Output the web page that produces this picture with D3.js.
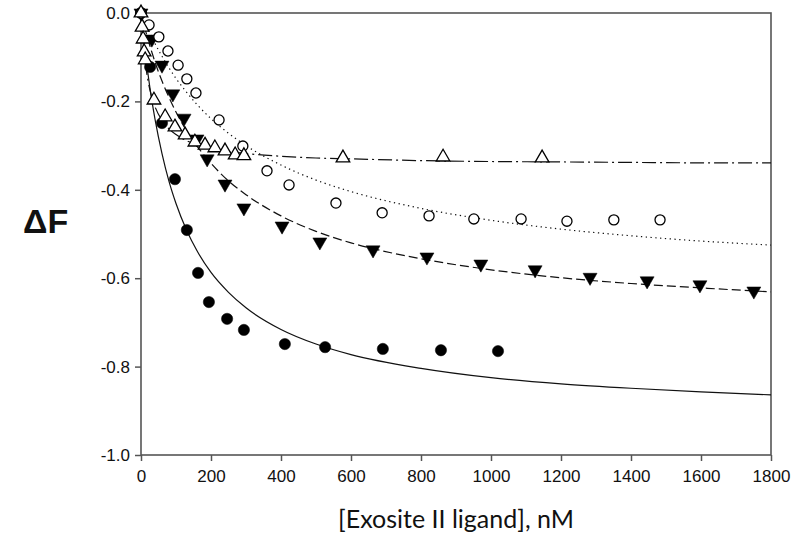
<!DOCTYPE html>
<html>
<head>
<meta charset="utf-8">
<script src="https://cdn.jsdelivr.net/npm/d3@7"></script>
<style>
  body { margin: 0; background: #fff; }
  .tick text { font-family: "Liberation Sans", Arial, sans-serif; font-size: 17px; fill: #111; }
</style>
</head>
<body>
<script>
var filledX = [0, 26, 60, 97, 131, 163, 194, 246, 294, 411, 526, 691, 857, 1020];
var filledY = [0, -0.122, -0.249, -0.376, -0.491, -0.588, -0.654, -0.692, -0.717, -0.749, -0.756, -0.760, -0.763, -0.765];

var downX = [0, 31, 60, 91, 123, 160, 189, 240, 294, 403, 511, 663, 817, 971, 1126, 1283, 1446, 1597, 1751];
var downY = [0, -0.059, -0.118, -0.183, -0.238, -0.285, -0.330, -0.387, -0.441, -0.482, -0.518, -0.536, -0.552, -0.568, -0.581, -0.598, -0.606, -0.615, -0.629];

var openX = [0, 23, 51, 77, 106, 131, 157, 223, 291, 360, 423, 557, 689, 823, 951, 1086, 1217, 1351, 1483];
var openY = [0, -0.027, -0.054, -0.086, -0.118, -0.149, -0.181, -0.242, -0.301, -0.357, -0.389, -0.430, -0.452, -0.459, -0.466, -0.466, -0.471, -0.468, -0.468];

var upX = [0, 3, 6, 9, 12, 37, 69, 97, 126, 154, 183, 211, 240, 269, 294, 577, 863, 1146];
var upY = [0, -0.032, -0.059, -0.088, -0.106, -0.197, -0.235, -0.258, -0.276, -0.292, -0.299, -0.305, -0.312, -0.321, -0.323, -0.328, -0.326, -0.328];

// fitted curves at these x positions
var fitX = [0, 5, 10, 20, 30, 40, 60, 80, 100, 130, 160, 200, 250, 300, 400, 500, 600, 800, 1000, 1200, 1400, 1600, 1800];
var solidFit = [0, -0.039, -0.075, -0.138, -0.193, -0.240, -0.318, -0.381, -0.431, -0.491, -0.538, -0.587, -0.632, -0.667, -0.716, -0.749, -0.773, -0.804, -0.825, -0.839, -0.849, -0.857, -0.864];
var dashFit = [0, -0.016, -0.031, -0.060, -0.086, -0.111, -0.154, -0.191, -0.224, -0.266, -0.301, -0.340, -0.380, -0.411, -0.459, -0.494, -0.520, -0.556, -0.581, -0.599, -0.612, -0.622, -0.631];
var dotFit = [0, -0.010, -0.019, -0.037, -0.053, -0.069, -0.098, -0.124, -0.148, -0.179, -0.207, -0.239, -0.272, -0.300, -0.344, -0.378, -0.404, -0.442, -0.469, -0.489, -0.504, -0.516, -0.525];
var dashDotFit = [0, -0.057, -0.098, -0.153, -0.188, -0.212, -0.243, -0.262, -0.275, -0.289, -0.298, -0.306, -0.313, -0.318, -0.324, -0.328, -0.330, -0.334, -0.336, -0.337, -0.338, -0.339, -0.339];

var xTicks = [0, 200, 400, 600, 800, 1000, 1200, 1400, 1600, 1800];
var yTicks = [0, -0.2, -0.4, -0.6, -0.8, -1.0];

var svgWidth = 800;
var svgHeight = 540;
var margin = { top: 13, right: 29, bottom: 85, left: 141 };
var chartWidth = svgWidth - margin.left - margin.right;
var chartHeight = svgHeight - margin.top - margin.bottom;

var svg = d3.select("body").append("svg")
  .attr("width", svgWidth)
  .attr("height", svgHeight);

var chartGroup = svg.append("g")
  .attr("transform", `translate(${margin.left}, ${margin.top})`);

var xScale = d3.scaleLinear().domain([0, 1800]).range([0, chartWidth]);
var yScale = d3.scaleLinear().domain([-1, 0]).range([chartHeight, 0]);

var axisColor = "#555";

var bottomAxis = d3.axisBottom(xScale).tickValues(xTicks).tickSize(6).tickPadding(9).tickFormat(d3.format("d"));
var leftAxis = d3.axisLeft(yScale).tickValues(yTicks).tickSize(6).tickPadding(5).tickFormat(d3.format(".1f"));

var gx = chartGroup.append("g")
  .attr("transform", `translate(0, ${chartHeight})`)
  .call(bottomAxis);
var gy = chartGroup.append("g").call(leftAxis);
[gx, gy].forEach(function(g) {
  g.select(".domain").remove();
  g.selectAll(".tick line").attr("stroke", axisColor).attr("stroke-width", 1.5);
});
gy.selectAll(".tick text").text(function(d) { return d3.format(".1f")(d).replace("−", "-"); });

// frame
chartGroup.append("rect")
  .attr("width", chartWidth)
  .attr("height", chartHeight)
  .attr("fill", "none")
  .attr("stroke", axisColor)
  .attr("stroke-width", 1.6);

// fit lines
function drawFit(values, dash) {
  var line = d3.line()
    .x(function(d, i) { return xScale(fitX[i]); })
    .y(function(d) { return yScale(d); })
    .curve(d3.curveMonotoneX);
  chartGroup.append("path")
    .datum(values)
    .attr("d", line)
    .attr("fill", "none")
    .attr("stroke", "#111")
    .attr("stroke-width", 1.2)
    .attr("stroke-dasharray", dash);
}
drawFit(solidFit, null);
drawFit(dashFit, "9,4");
drawFit(dotFit, "1.3,3.5");
drawFit(dashDotFit, "14,4,2,4");

// markers
function drawPoints(xs, ys, symbolType, size, filled, rotate) {
  var sym = d3.symbol().type(symbolType).size(size);
  chartGroup.selectAll(null)
    .data(xs)
    .enter()
    .append("path")
    .attr("d", sym)
    .attr("transform", function(d, i) {
      return `translate(${xScale(d)}, ${yScale(ys[i])}) rotate(${rotate})`;
    })
    .attr("fill", filled ? "#000" : "#fff")
    .attr("stroke", "#000")
    .attr("stroke-width", filled ? 0.5 : 1.3);
}
drawPoints(filledX, filledY, d3.symbolCircle, 100, true, 0);
drawPoints(downX, downY, d3.symbolTriangle, 85, true, 180);
drawPoints(openX, openY, d3.symbolCircle, 80, false, 0);
drawPoints(upX, upY, d3.symbolTriangle, 80, false, 0);

// axis titles
svg.append("text")
  .attr("x", margin.left + chartWidth / 2)
  .attr("y", 528)
  .attr("text-anchor", "middle")
  .attr("font-family", "Lato, 'Open Sans', sans-serif")
  .attr("font-size", "25px")
  .attr("fill", "#111")
  .text("[Exosite II ligand], nM");

svg.append("text")
  .attr("x", 23)
  .attr("y", 233)
  .attr("font-family", "'Liberation Sans', Arial, sans-serif")
  .attr("font-weight", "bold")
  .attr("font-size", "34px")
  .attr("fill", "#111")
  .text("ΔF");
</script>
</body>
</html>
